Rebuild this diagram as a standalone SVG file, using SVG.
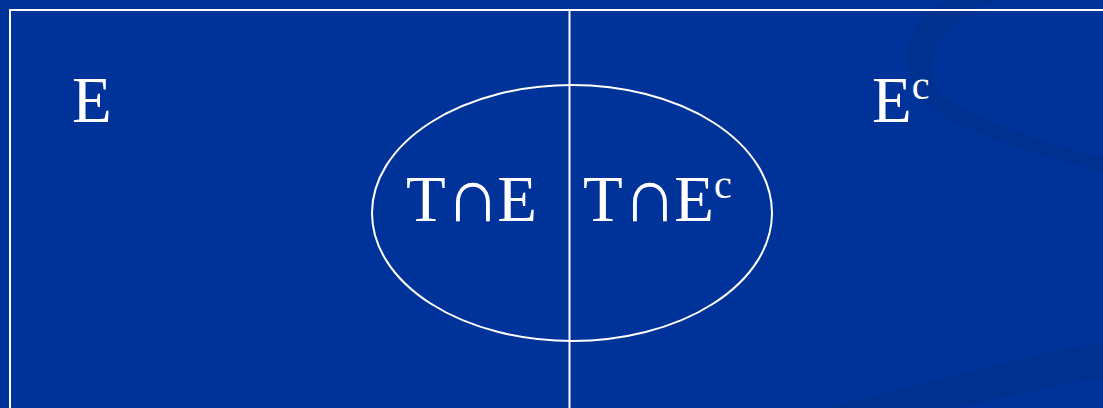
<svg xmlns="http://www.w3.org/2000/svg" width="1103" height="408" viewBox="0 0 1103 408">
<style>
.t{font-family:"Liberation Serif","Times New Roman",serif;fill:#fff;font-size:65px}
.s{font-size:40px}
.cap{font-family:"DejaVu Sans",sans-serif;font-size:76px;font-weight:200}
.ln{stroke:#fff;stroke-width:2;fill:none}
</style>
<rect width="1103" height="408" fill="#003399"/>
<g id="swoosh" fill="#00308f" opacity="0.9">
<path d="M950 0 C890 25 895 95 955 122 C1005 145 1060 160 1103 172 L1103 158 C1050 145 990 125 948 100 C918 80 925 20 1000 0 Z"/>
<path d="M830 408 C920 385 1010 360 1103 342 L1103 378 C1030 390 990 400 960 408 Z"/>
</g>
<g id="frame">
<line class="ln" x1="9" y1="10" x2="1103" y2="10"/>
<line class="ln" x1="10" y1="10" x2="10" y2="408"/>
<line class="ln" x1="569.5" y1="10" x2="569.5" y2="408"/>
</g>
<g id="ellipse-T">
<ellipse class="ln" cx="572" cy="213" rx="200" ry="128"/>
</g>
<g id="label-E"><text class="t" x="72" y="122">E</text></g>
<g id="label-Ec"><text class="t" x="872" y="122">E<tspan class="s" dy="-23">c</tspan></text></g>
<g id="label-TE"><text class="t" x="406" y="221">T<tspan class="cap">∩</tspan><tspan dx="-3">E</tspan></text></g>
<g id="label-TEc"><text class="t" x="583" y="221">T<tspan class="cap">∩</tspan><tspan dx="-3">E</tspan><tspan class="s" dy="-23">c</tspan></text></g>
</svg>
